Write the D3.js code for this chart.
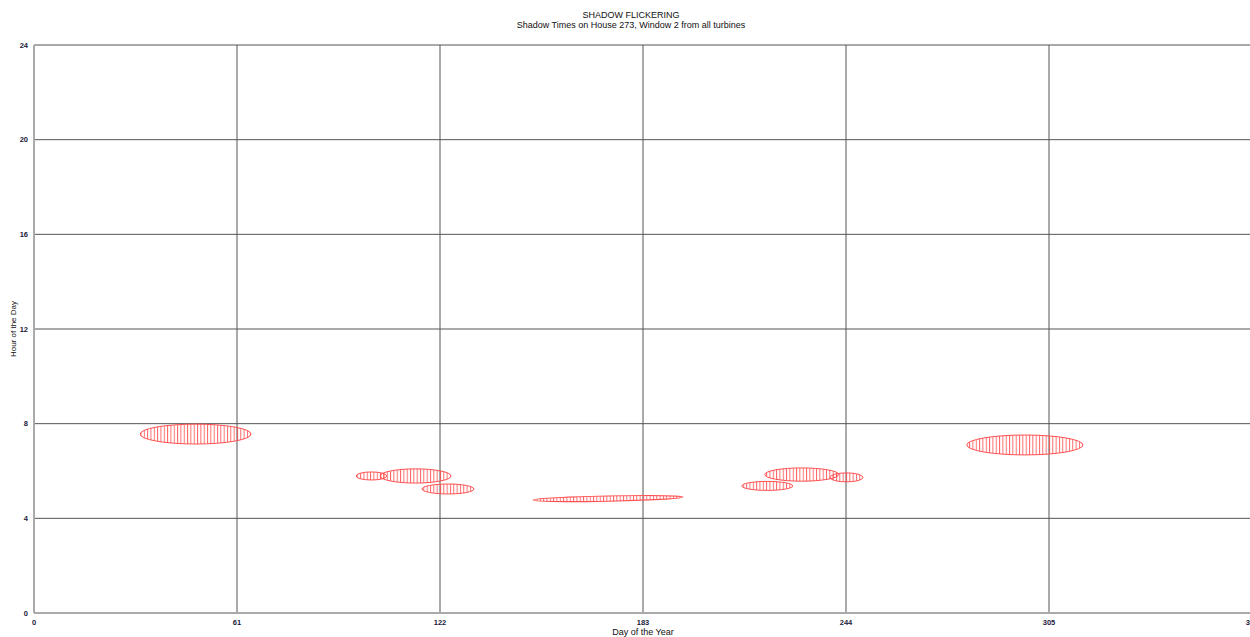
<!DOCTYPE html>
<html>
<head>
<meta charset="utf-8">
<script src="https://cdn.jsdelivr.net/npm/d3@7/dist/d3.min.js"></script>
<style>
  html, body { margin: 0; padding: 0; background: #fff; overflow: hidden; }
  svg { display: block; font-family: "Liberation Sans", Arial, sans-serif; }
</style>
</head>
<body>
<svg id="chart" width="1250" height="637"></svg>
<script>
// ---- data ----
const titleText = "SHADOW FLICKERING";
const subtitleText = "Shadow Times on House 273, Window 2 from all turbines";
const xTicks = [0, 61, 122, 183, 244, 305, 366];
const yTicks = [0, 4, 8, 12, 16, 20, 24];
// shadow periods: day span, centre hour at start/end of span, half duration (hours)
const eventStartDay  = [31.9, 96.8, 104.0, 116.6, 150.0, 212.7, 219.6, 239.2, 280.3];
const eventEndDay    = [65.2, 106.0, 125.3, 132.2, 195.0, 228.0, 241.8, 249.1, 315.2];
const eventStartHour = [7.56, 5.79, 5.79, 5.24, 4.77, 5.37, 5.85, 5.73, 7.10];
const eventEndHour   = [7.56, 5.79, 5.79, 5.24, 4.90, 5.37, 5.85, 5.73, 7.10];
const eventHalfHours = [0.42, 0.17, 0.30, 0.21, 0.11, 0.19, 0.28, 0.19, 0.42];

// ---- layout ----
const svg = d3.select("#chart");
const x = d3.scaleLinear().domain([0, 366]).range([34, 1252]);
const y = d3.scaleLinear().domain([0, 24]).range([613, 45]);

// title
svg.append("text").attr("x", 631).attr("y", 18).attr("text-anchor", "middle")
  .attr("font-size", 9).attr("fill", "#111").text(titleText);
svg.append("text").attr("x", 631).attr("y", 28).attr("text-anchor", "middle")
  .attr("font-size", 9).attr("fill", "#111").text(subtitleText);

// grid
const grid = svg.append("g");
grid.selectAll(".vg").data(xTicks.filter(d => d > 0)).join("line")
  .attr("x1", d => x(d)).attr("x2", d => x(d))
  .attr("y1", y(24)).attr("y2", y(0))
  .attr("stroke", "#555").attr("stroke-width", 1);
grid.selectAll(".hg").data(yTicks.filter(d => d > 0)).join("line")
  .attr("x1", x(0)).attr("x2", x(366))
  .attr("y1", d => y(d)).attr("y2", d => y(d))
  .attr("stroke", "#555").attr("stroke-width", 1);

// pattern for hatching: one vertical line per day
const dayW = x(1) - x(0);
const defs = svg.append("defs");
const pat = defs.append("pattern").attr("id", "hatch")
  .attr("patternUnits", "userSpaceOnUse")
  .attr("x", x(0)).attr("y", 0)
  .attr("width", dayW).attr("height", 637);
pat.append("rect").attr("width", dayW).attr("height", 637).attr("fill", "rgba(255,255,255,0)");
pat.append("line").attr("x1", 0.5).attr("x2", 0.5).attr("y1", 0).attr("y2", 637)
  .attr("stroke", "#ff4040").attr("stroke-width", 0.9);

// shadow events
const events = eventStartDay.map((s, i) => ({
  s, e: eventEndDay[i], h0: eventStartHour[i], h1: eventEndHour[i], hh: eventHalfHours[i]
}));
const eg = svg.append("g");
events.forEach(ev => {
  const x0 = x(ev.s), x1 = x(ev.e);
  const y0 = y(ev.h0), y1 = y(ev.h1);
  const cx = (x0 + x1) / 2, cy = (y0 + y1) / 2;
  const ang = Math.atan2(y1 - y0, x1 - x0) * 180 / Math.PI;
  const rx = Math.hypot(x1 - x0, y1 - y0) / 2;
  const ry = y(0) - y(ev.hh);
  eg.append("ellipse")
    .attr("cx", cx).attr("cy", cy).attr("rx", rx).attr("ry", ry)
    .attr("transform", `rotate(${ang},${cx},${cy})`)
    .attr("fill", "url(#hatch)")
    .attr("stroke", "#ff5050").attr("stroke-width", 1)
    .attr("fill-opacity", 0.85);
});

// axes lines
svg.append("line").attr("x1", x(0)).attr("x2", x(0)).attr("y1", y(24)).attr("y2", y(0))
  .attr("stroke", "#aaa").attr("stroke-width", 2);
svg.append("line").attr("x1", x(0)).attr("x2", 1250).attr("y1", y(0)).attr("y2", y(0))
  .attr("stroke", "#aaa").attr("stroke-width", 2);

// tick labels
svg.selectAll(".xl").data(xTicks).join("text")
  .attr("x", d => x(d)).attr("y", 625).attr("text-anchor", "middle")
  .attr("font-size", 7.5).attr("font-weight", "bold").attr("fill", "#1a1a3a").text(d => d);
svg.selectAll(".yl").data(yTicks).join("text")
  .attr("x", 28).attr("y", d => y(d) + 2.5).attr("text-anchor", "end")
  .attr("font-size", 7.5).attr("font-weight", "bold").attr("fill", "#1a1a3a").text(d => d);

// axis titles
svg.append("text").attr("x", x(183)).attr("y", 635).attr("text-anchor", "middle")
  .attr("font-size", 9).attr("fill", "#111").text("Day of the Year");
svg.append("text").attr("transform", `translate(16,${y(12)}) rotate(-90)`)
  .attr("text-anchor", "middle").attr("font-size", 8).attr("fill", "#111").text("Hour of the Day");
</script>
</body>
</html>
